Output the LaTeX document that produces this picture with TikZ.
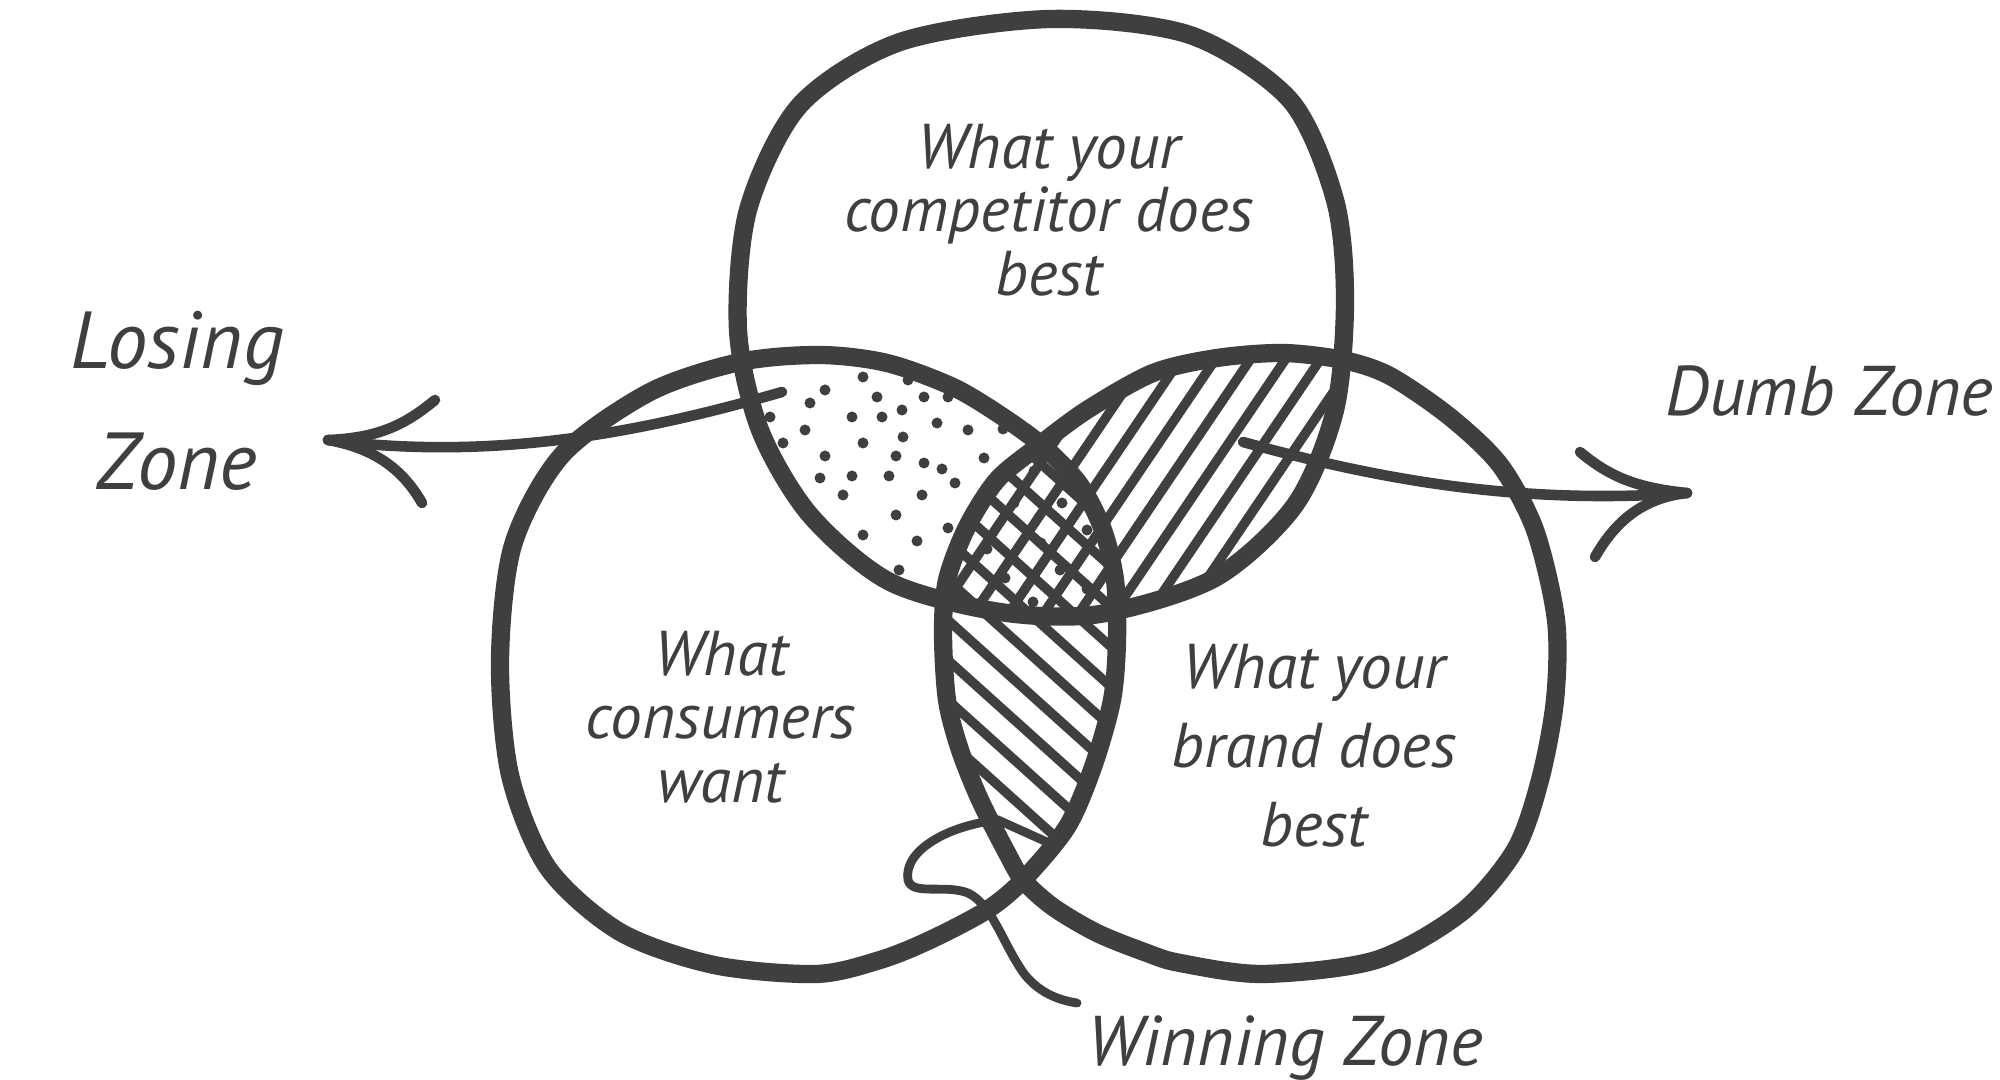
\documentclass[tikz,border=0pt]{standalone}
\usepackage{fontspec}
\setmainfont{PT Sans}
\usetikzlibrary{calc}
\definecolor{ink}{HTML}{3F3F3F}
\newcommand{\topblob}{plot[smooth cycle] coordinates {(1050,19) (1190,35) (1290,100) (1335,200) (1345,300) (1335,410) (1295,505) (1215,578) (1100,614) (1000,612) (890,582) (810,515) (760,430) (738,330) (748,210) (800,105) (900,42)}}
\newcommand{\leftblob}{plot[smooth cycle] coordinates {(820,355) (887,363) (953,387) (1003,417) (1045,448) (1080,485) (1103,530) (1115,580) (1117,640) (1112,700) (1093,767) (1067,827) (1023,880) (987,910) (930,940) (880,960) (816,974) (714,965) (620,932) (548,868) (510,775) (500,660) (513,545) (562,455) (650,392) (740,362)}}
\newcommand{\rightblob}{plot[smooth cycle] coordinates {(1217,358) (1283,353) (1343,360) (1390,376) (1450,417) (1500,465) (1535,530) (1556,620) (1555,700) (1540,780) (1515,850) (1462,912) (1376,960) (1263,974) (1180,963) (1147,953) (1097,933) (1053,907) (1023,880) (1007,853) (980,800) (960,750) (947,700) (943,633) (947,580) (967,527) (997,480) (1037,447) (1087,410) (1153,373)}}

\begin{document}
\begin{tikzpicture}[x=0.01cm,y=-0.01cm,
		outline/.style={draw=ink,line width=5.2pt},
		hatch/.style={draw=ink,line width=2.7pt},
		pointer/.style={draw=ink,line width=3pt,line cap=round},
		thinpointer/.style={pointer,line width=2.5pt},
		label/.style={text=ink,align=center,inner sep=0pt,font=\itshape\fontsize{18}{18}\selectfont},
		zone/.style={text=ink,align=center,inner sep=0pt,font=\itshape\fontsize{20}{20}\selectfont},
	]
		\useasboundingbox (0,0) rectangle (2000,1080);

		\begin{scope}
			\clip \topblob;
			\clip \leftblob;
			\foreach \x/\y in {863/377, 908/380, 825/390, 877/397, 924/397, 948/397, 810/403, 902/410,
				770/417, 852/417, 882/417, 937/423, 805/430, 968/430, 1003/429, 903/437, 783/443, 863/443,
				825/456, 896/456, 924/463, 984/458, 942/469, 820/478, 852/476, 889/476, 955/483, 843/495,
				922/495, 896/515, 818/522, 948/528, 863/535, 917/541, 899/570, 1034/471, 1014/503, 1062/503,
				1087/530, 1041/543, 987/549, 1060/570, 1005/578, 1087/589, 1033/602}
				\fill[ink] (\x,\y) circle (5.5);
		\end{scope}
		\begin{scope}
			\clip \topblob;
			\clip \rightblob;
			\foreach \x in {845,880,...,1220}
				\draw[hatch] (\x,700) -- ++(280,-414);
		\end{scope}
		\begin{scope}
			\clip \leftblob;
			\clip \rightblob;
			\foreach \y in {297,337,...,697}
				\draw[hatch] (860,\y-36) -- ++(320,288);
		\end{scope}

		\draw[outline] \topblob;
		\draw[outline] \leftblob;
		\draw[outline] \rightblob;

		\node[label] (rival) at (1049,210) {What your\\competitor does\\best};
		\node[label] (consumer) at (721,717) {What\\consumers\\want};
		\node[label,font=\itshape\fontsize{18}{22.5}\selectfont] (brand) at (1314,746) {What your\\brand does\\best};
		\node[zone,font=\itshape\fontsize{23}{34.5}\selectfont] (losing) at (177,401) {Losing\\Zone};
		\node[zone,anchor=base east] (dumb) at (1994,416) {Dumb Zone};
		\node[zone,anchor=base] (winning) at (1285,1065) {Winning Zone};

		\coordinate (lstart) at (782,392);
		\coordinate (ltip) at (328,440);
		\coordinate (rstart) at (1243,442);
		\coordinate (rtip) at (1687,493);
		\coordinate (wstart) at (1058,847);
		\coordinate (wend) at (1077,1003);

		\draw[pointer] (lstart) .. controls (650,430) and (500,462) .. (ltip);
		\draw[pointer] (ltip) .. controls +(50,-2) and +(-30,25) .. ++(107,-40);
		\draw[pointer] (ltip) .. controls +(45,8) and +(-20,-35) .. ++(94,63);

		\draw[pointer] (rstart) .. controls (1380,480) and (1520,505) .. (rtip);
		\draw[pointer] (rtip) .. controls +(-50,-5) and +(30,25) .. ++(-107,-41);
		\draw[pointer] (rtip) .. controls +(-45,5) and +(20,-35) .. ++(-92,64);

		\draw[thinpointer] (wstart) -- (998,820) .. controls (945,826) and (903,852) .. (908,880)
			.. controls (912,896) and (945,884) .. (968,893) .. controls (993,905) and (1003,945) .. (1025,975)
			.. controls (1040,993) and (1058,1000) .. (wend);
\end{tikzpicture}
\end{document}
